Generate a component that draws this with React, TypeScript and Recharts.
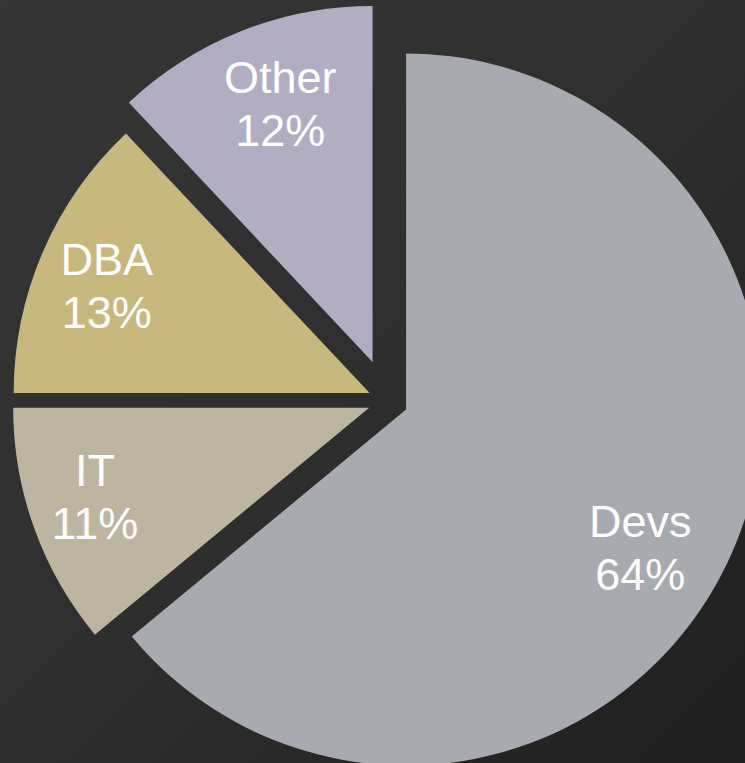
import { PieChart, Pie, Cell } from 'recharts';

const roles = ['Devs', 'IT', 'DBA', 'Other'];
const shares = [64, 11, 13, 12];
const colors = ['#a8aab1', '#bdb5a0', '#c8b87e', '#b2adc3'];
const explode = [20, 20, 20, 42];
// small hand nudges for the label blocks, like the original deck
const labelNudge = [
  [-17, 20],
  [-13, -5],
  [-8, 3],
  [10, 0],
];

const CX = 388;
const CY = 401;
const R = 356;
const RAD = Math.PI / 180;

const makeLabel = (nudge: number[]) => (props: any) => {
  const { cx, cy, midAngle, outerRadius, name, value } = props;
  const r = outerRadius * 0.78;
  const x = cx + r * Math.cos(-midAngle * RAD) + nudge[0];
  const y = cy + r * Math.sin(-midAngle * RAD) + nudge[1];
  return (
    <text
      x={x}
      y={y}
      fill="#ffffff"
      textAnchor="middle"
      fontFamily="'Liberation Sans', Arial, sans-serif"
      fontSize={45}
    >
      <tspan x={x} y={y - 26} dominantBaseline="central">{name}</tspan>
      <tspan x={x} y={y + 27} dominantBaseline="central">{`${value}%`}</tspan>
    </text>
  );
};

export default function App() {
  const total = shares.reduce((a, b) => a + b, 0);
  let acc = 0;
  const slices = roles.map((name, i) => {
    const start = 90 - (acc / total) * 360;
    acc += shares[i];
    const end = 90 - (acc / total) * 360;
    const mid = (start + end) / 2;
    return {
      name,
      value: shares[i],
      start,
      end,
      dx: explode[i] * Math.cos(mid * RAD),
      dy: -explode[i] * Math.sin(mid * RAD),
      fill: colors[i],
      nudge: labelNudge[i],
    };
  });

  return (
    <div
      style={{
        position: 'absolute',
        left: 0,
        top: 0,
        width: 745,
        height: 763,
        overflow: 'hidden',
        background: 'linear-gradient(135deg, #363636 0%, #2e2e2e 50%, #1f1f1f 100%)',
      }}
    >
      <PieChart width={745} height={763} margin={{ top: 0, right: 0, bottom: 0, left: 0 }}>
        {slices.map((s) => (
          <Pie
            key={s.name}
            data={[{ name: s.name, value: s.value }]}
            dataKey="value"
            nameKey="name"
            cx={CX + s.dx}
            cy={CY + s.dy}
            outerRadius={R}
            startAngle={s.start}
            endAngle={s.end}
            stroke="none"
            label={makeLabel(s.nudge)}
            labelLine={false}
            isAnimationActive={false}
          >
            <Cell fill={s.fill} />
          </Pie>
        ))}
      </PieChart>
    </div>
  );
}
